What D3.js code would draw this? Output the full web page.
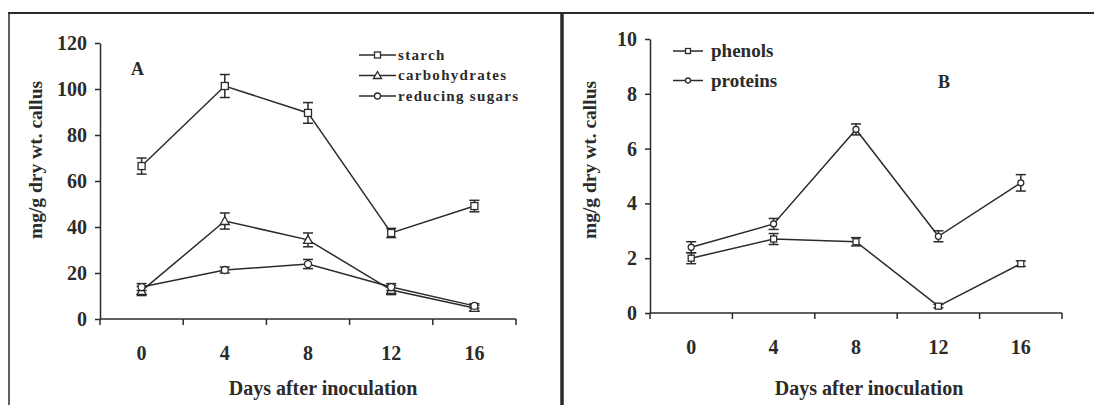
<!DOCTYPE html>
<html>
<head>
<meta charset="utf-8">
<script src="https://cdn.jsdelivr.net/npm/d3@7"></script>
<style>
  body { margin: 0; background: #fff; }
  svg { display: block; font-family: 'Liberation Serif', 'Times New Roman', serif; font-weight: bold; }
</style>
</head>
<body>
<svg id="chart" width="1094" height="405"></svg>
<script>
/* global d3 */

const days = ['0', '4', '8', '12', '16']

// panel A
const starch = [66.5, 101.3, 89.6, 37.4, 49.1]
const starchErr = [3.5, 5, 4.5, 2, 2.5]
const carbohydrates = [12.2, 42.6, 34.4, 12.6, 4.8]
const carbohydratesErr = [2, 3.5, 3, 2, 1.2]
const reducingSugars = [13.9, 21.3, 23.9, 13.9, 5.7]
const reducingSugarsErr = [1.5, 1.3, 2, 1.5, 1]
const ticksA = [0, 20, 40, 60, 80, 100, 120]

// panel B
const phenols = [2.0, 2.7, 2.6, 0.25, 1.8]
const phenolsErr = [0.2, 0.2, 0.15, 0.06, 0.1]
const proteins = [2.4, 3.25, 6.7, 2.8, 4.75]
const proteinsErr = [0.2, 0.2, 0.2, 0.2, 0.3]
const ticksB = [0, 2, 4, 6, 8, 10]

const ink = '#2b2b2b'
const svg = d3.select('#chart')

// frame
svg.append('line').attr('x1', 8).attr('x2', 1094).attr('y1', 13).attr('y2', 13)
  .attr('stroke', ink).attr('stroke-width', 2)
svg.append('line').attr('x1', 9).attr('x2', 9).attr('y1', 13).attr('y2', 405)
  .attr('stroke', ink).attr('stroke-width', 1.5)
svg.append('line').attr('x1', 562).attr('x2', 562).attr('y1', 13).attr('y2', 405)
  .attr('stroke', ink).attr('stroke-width', 3.5)

function marker(g, shape, size) {
  const s = size
  if (shape === 'square') {
    g.append('rect').attr('x', -s / 2).attr('y', -s / 2).attr('width', s).attr('height', s)
  } else if (shape === 'triangle') {
    g.append('path').attr('d', `M0,${-s / 2 - 1}L${s / 2 + 1},${s / 2}L${-s / 2 - 1},${s / 2}Z`)
  } else {
    g.append('circle').attr('r', s / 2)
  }
  g.selectAll('*').attr('fill', '#fff').attr('stroke', ink).attr('stroke-width', 1.3)
}

function panel(opts) {
  const x = d3.scaleBand().domain(days).range(opts.xRange)
  const y = d3.scaleLinear().domain([0, opts.max]).range(opts.yRange)
  const g = svg.append('g')

  // y axis
  const yAxis = g.append('g')
    .attr('transform', `translate(${opts.xRange[0]},0)`)
    .call(d3.axisLeft(y).tickValues(opts.ticks).tickSize(5).tickPadding(8).tickSizeOuter(0))
  yAxis.select('.domain').attr('stroke', ink).attr('stroke-width', 1.5)
  yAxis.selectAll('.tick line').attr('stroke', ink).attr('stroke-width', 1.5)
  yAxis.selectAll('.tick text')
    .attr('fill', ink).attr('font-size', 20).attr('font-family', 'Liberation Serif').attr('font-weight', 'bold')

  // x axis with ticks between categories
  const base = y(0)
  g.append('line').attr('x1', opts.xRange[0]).attr('x2', opts.xRange[1])
    .attr('y1', base).attr('y2', base).attr('stroke', ink).attr('stroke-width', 1.5)
  const bounds = days.map(d => x(d)).concat([opts.xRange[1]])
  g.selectAll('.xtick').data(bounds).enter().append('line')
    .attr('x1', d => d).attr('x2', d => d).attr('y1', base).attr('y2', base + 6)
    .attr('stroke', ink).attr('stroke-width', 1.5)
  g.selectAll('.xlabel').data(days).enter().append('text')
    .attr('x', d => x(d) + x.bandwidth() / 2).attr('y', opts.xLabelY)
    .attr('text-anchor', 'middle').attr('font-size', 20).attr('fill', ink)
    .text(d => d)

  // titles
  g.append('text')
    .attr('x', opts.xTitle).attr('y', 395).attr('text-anchor', 'middle')
    .attr('font-size', 20).attr('fill', ink).text('Days after inoculation')
  g.append('text')
    .attr('transform', `translate(${opts.yTitle},160) rotate(-90)`)
    .attr('text-anchor', 'middle').attr('dy', '0.35em')
    .attr('font-size', 19.5).attr('fill', ink).text('mg/g dry wt. callus')
  g.append('text')
    .attr('x', opts.label[0]).attr('y', opts.label[1]).attr('dy', '0.35em')
    .attr('font-size', 18).attr('fill', ink).text(opts.labelText)

  const cx = d => x(d) + x.bandwidth() / 2
  const line = d3.line().x(d => cx(d.day)).y(d => y(d.v))

  opts.series.forEach(s => {
    const pts = days.map((d, i) => ({ day: d, v: s.values[i], e: s.err[i] }))
    g.append('path').datum(pts).attr('d', line)
      .attr('fill', 'none').attr('stroke', ink).attr('stroke-width', 1.5)
    const eb = g.selectAll(null).data(pts).enter().append('g')
    eb.append('line')
      .attr('x1', d => cx(d.day)).attr('x2', d => cx(d.day))
      .attr('y1', d => y(d.v + d.e)).attr('y2', d => y(d.v - d.e))
    eb.append('line')
      .attr('x1', d => cx(d.day) - 5).attr('x2', d => cx(d.day) + 5)
      .attr('y1', d => y(d.v + d.e)).attr('y2', d => y(d.v + d.e))
    eb.append('line')
      .attr('x1', d => cx(d.day) - 5).attr('x2', d => cx(d.day) + 5)
      .attr('y1', d => y(d.v - d.e)).attr('y2', d => y(d.v - d.e))
    eb.selectAll('line').attr('stroke', ink).attr('stroke-width', 1.5)
    pts.forEach(p => {
      const m = g.append('g').attr('transform', `translate(${cx(p.day)},${y(p.v)})`)
      marker(m, s.shape, opts.markerSize)
    })
  })

  // legend
  opts.series.forEach((s, i) => {
    const ly = opts.legend.y + i * opts.legend.gap
    const lg = g.append('g').attr('transform', `translate(${opts.legend.x},${ly})`)
    lg.append('line').attr('x1', 0).attr('x2', opts.legend.len).attr('y1', 0).attr('y2', 0)
      .attr('stroke', ink).attr('stroke-width', 1.5)
    const m = lg.append('g').attr('transform', `translate(${opts.legend.len / 2},0)`)
    marker(m, s.shape, opts.legend.marker)
    lg.append('text').attr('x', opts.legend.len + opts.legend.pad).attr('dy', '0.32em')
      .attr('font-size', opts.legend.font).attr('letter-spacing', opts.legend.spacing)
      .attr('fill', ink).text(s.name)
  })
}

panel({
  xRange: [100, 516],
  yRange: [319, 43],
  max: 120,
  ticks: ticksA,
  xTitle: 323,
  xLabelY: 360,
  yTitle: 35,
  label: [131, 69],
  labelText: 'A',
  markerSize: 7,
  series: [
    { name: 'starch', values: starch, err: starchErr, shape: 'square' },
    { name: 'carbohydrates', values: carbohydrates, err: carbohydratesErr, shape: 'triangle' },
    { name: 'reducing sugars', values: reducingSugars, err: reducingSugarsErr, shape: 'circle' }
  ],
  legend: { x: 359, y: 55, gap: 20.5, len: 37, pad: 2, marker: 6, font: 15, spacing: 1.3 }
})

panel({
  xRange: [650, 1062],
  yRange: [313, 39],
  max: 10,
  ticks: ticksB,
  xTitle: 869,
  xLabelY: 354,
  yTitle: 589,
  label: [938, 82],
  labelText: 'B',
  markerSize: 6,
  series: [
    { name: 'phenols', values: phenols, err: phenolsErr, shape: 'square' },
    { name: 'proteins', values: proteins, err: proteinsErr, shape: 'circle' }
  ],
  legend: { x: 673, y: 51, gap: 29.5, len: 30, pad: 8, marker: 5, font: 19, spacing: 0 }
})
</script>
</body>
</html>
